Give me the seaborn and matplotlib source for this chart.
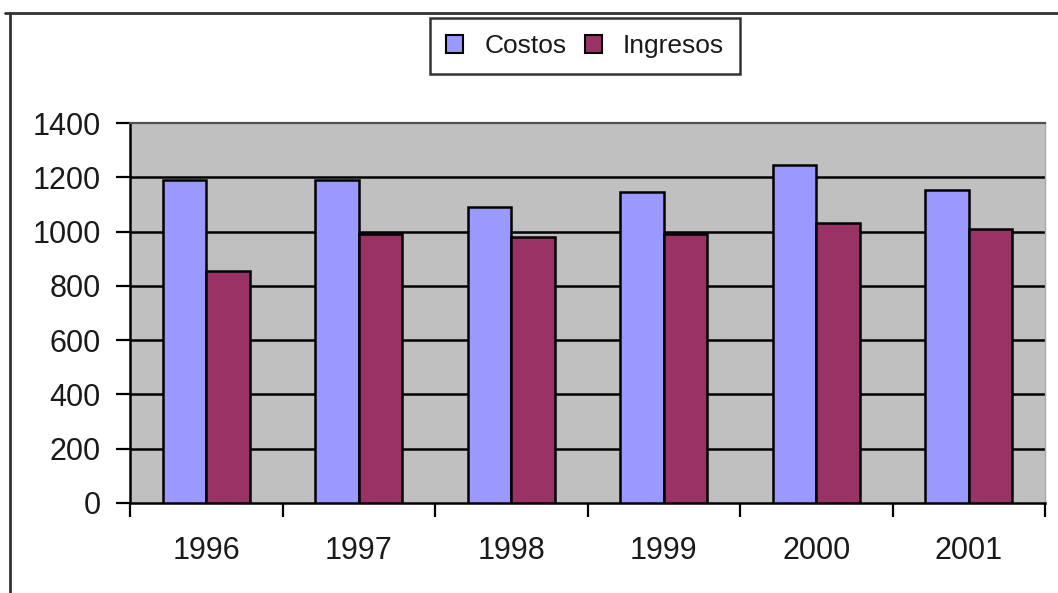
import matplotlib
matplotlib.use("Agg")
import matplotlib.pyplot as plt
from matplotlib.lines import Line2D
from matplotlib.patches import Patch
import numpy as np
import pandas as pd
import seaborn as sns

# Annual figures
years = ["1996", "1997", "1998", "1999", "2000", "2001"]
costos = [1190, 1190, 1090, 1145, 1245, 1155]
ingresos = [855, 990, 980, 990, 1030, 1010]
series_names = ["Costos", "Ingresos"]
y_ticks = [0, 200, 400, 600, 800, 1000, 1200, 1400]

colors = {"Costos": "#9999FF", "Ingresos": "#993366"}

df = pd.DataFrame({
    "year": years * 2,
    "value": costos + ingresos,
    "serie": [series_names[0]] * len(years) + [series_names[1]] * len(years),
})

sns.set_theme(style="white")
plt.rcParams["font.family"] = ["Liberation Sans", "DejaVu Sans"]

fig = plt.figure(figsize=(10.58, 5.93), dpi=100)
ax = fig.add_axes([130 / 1058, 1 - 503 / 593, 915 / 1058, 380 / 593])
ax.set_facecolor("#C0C0C0")

sns.barplot(data=df, x="year", y="value", hue="serie", order=years,
            hue_order=series_names, palette=colors, width=0.57,
            edgecolor="black", linewidth=1.8, saturation=1, ax=ax,
            legend=False, zorder=3)

ax.set_xlim(-0.5, len(years) - 0.5)
ax.set_ylim(0, 1400)
ax.set_yticks(y_ticks)
ax.set_xlabel("")
ax.set_ylabel("")

# Horizontal gridlines behind the bars
for v in y_ticks[1:-1]:
    ax.axhline(v, color="black", lw=1.8, zorder=1)

# Category boundary ticks on the x axis
ax.set_xticks(np.arange(-0.5, len(years), 1.0), minor=True)
ax.tick_params(axis="x", which="major", length=0, pad=24, labelsize=22,
               labelcolor="#1a1a1a")
ax.tick_params(axis="x", which="minor", length=10, width=1.6,
               color="black", direction="out", bottom=True)
ax.tick_params(axis="y", which="major", length=10, width=1.6,
               color="black", direction="out", left=True, pad=11,
               labelsize=22, labelcolor="#1a1a1a")

for side in ["left", "bottom"]:
    ax.spines[side].set_color("black")
    ax.spines[side].set_linewidth(1.8)
ax.spines["top"].set_color("#505050")
ax.spines["top"].set_linewidth(1.6)
ax.spines["right"].set_color("#A8A8A8")
ax.spines["right"].set_linewidth(1.0)

# Legend box above the plot area
handles = [Patch(facecolor=colors[s], edgecolor="black", linewidth=1.5)
           for s in series_names]
leg = fig.legend(handles, series_names, loc="center",
                 bbox_to_anchor=(585 / 1058, 1 - 46 / 593), ncol=2,
                 fontsize=19, frameon=True, fancybox=False,
                 handlelength=0.65, handleheight=0.65, handletextpad=0.8,
                 columnspacing=0.7, borderpad=0.6)
for t in leg.get_texts():
    t.set_color("#1a1a1a")
leg.get_frame().set_edgecolor("black")
leg.get_frame().set_linewidth(1.8)
leg.get_frame().set_facecolor("white")

# Chart-area border (top and left edges visible)
fig.add_artist(Line2D([5 / 1058, 1.0], [1 - 13 / 593, 1 - 13 / 593],
                      transform=fig.transFigure, color="#333333", lw=2))
fig.add_artist(Line2D([10 / 1058, 10 / 1058], [0.0, 1 - 13 / 593],
                      transform=fig.transFigure, color="#333333", lw=2))

fig.savefig("out.png", dpi=100, facecolor="white")
